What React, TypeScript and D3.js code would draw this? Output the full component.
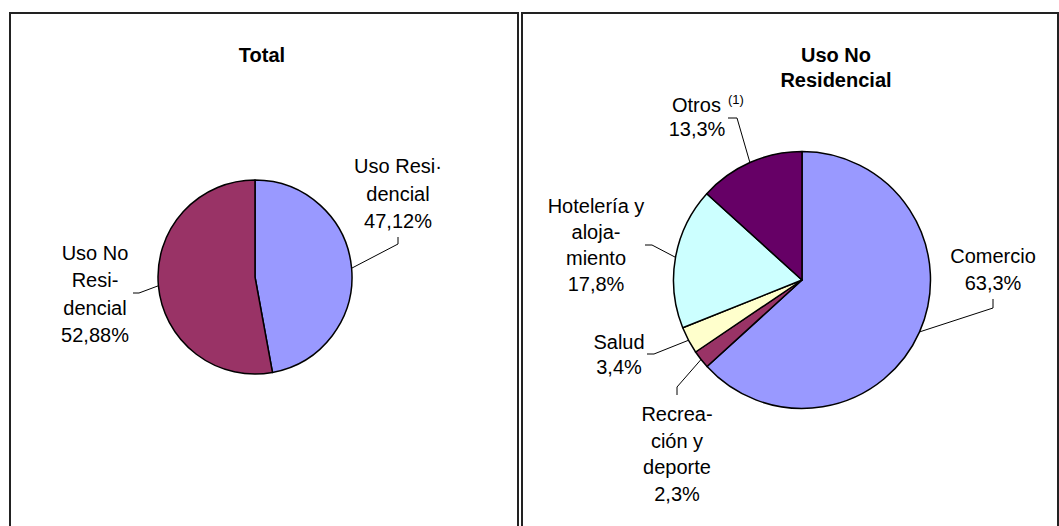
import React from "react";
import * as d3 from "d3";

// datos
const totalNames = ["Uso Residencial", "Uso No Residencial"];
const totalValues = [47.12, 52.88];
const totalColors = ["#9999FF", "#993366"];
const totalText = [["Uso Resi\u00B7", "dencial"], ["Uso No", "Resi-", "dencial"]];

const noResNames = ["Comercio", "Recreación y deporte", "Salud", "Hotelería y alojamiento", "Otros"];
const noResValues = [63.3, 2.3, 3.4, 17.8, 13.3];
const noResColors = ["#9999FF", "#993366", "#FFFFCC", "#CCFFFF", "#660066"];
const noResText = [["Comercio"], ["Recrea-", "ción y", "deporte"], ["Salud"], ["Hotelería y", "aloja-", "miento"], ["Otros"]];

const FONT = "'Liberation Sans', Arial, sans-serif";

// posiciones de las etiquetas (x centro, y primera linea, alto de linea, codo, remate)
const totalLayout = [
  { x: 398, y: 173, lh: 27.5, elbow: [398, 244], end: [398, 237] },
  { x: 95, y: 259.5, lh: 27.5, elbow: [139, 293], end: [133, 293] },
];
const noResLayout = [
  { x: 993, y: 263, lh: 27, elbow: [993, 308], end: [993, 299] },
  { x: 677, y: 421, lh: 26.5, elbow: [677, 387], end: [677, 395] },
  { x: 619, y: 349, lh: 25, elbow: [654, 354], end: [647, 354] },
  { x: 596, y: 213, lh: 26, elbow: [652, 245], end: [645, 245] },
  { x: 697, y: 111.5, lh: 24.5, elbow: [737, 118], end: [728, 118] },
];

const fmt = (v: number, dec: number) => d3.format(`.${dec}f`)(v).replace(".", ",") + "%";

type Layout = { x: number; y: number; lh: number; elbow: number[]; end: number[] };

const Pie = ({ cx, cy, r, values, colors, text, layout, dec }: {
  cx: number; cy: number; r: number; values: number[]; colors: string[];
  text: string[][]; layout: Layout[]; dec: number;
}) => {
  const arcs = d3.pie<number>().sort(null).value((d) => d)(values);
  const arc = d3.arc<d3.PieArcDatum<number>>().innerRadius(0).outerRadius(r);
  const edge = d3.arc<d3.PieArcDatum<number>>().innerRadius(r).outerRadius(r);
  return (
    <g>
      <g transform={`translate(${cx},${cy})`}>
        {arcs.map((a, i) => (
          <path key={i} d={arc(a) || ""} fill={colors[i]} stroke="#000" strokeWidth={1.5} strokeLinejoin="round" />
        ))}
      </g>
      {arcs.map((a, i) => {
        const [px, py] = edge.centroid(a);
        const l = layout[i];
        const lines = [...text[i], fmt(values[i], dec)];
        const isOtros = text[i][0] === "Otros";
        return (
          <g key={i}>
            <polyline
              points={`${cx + px},${cy + py} ${l.elbow[0]},${l.elbow[1]} ${l.end[0]},${l.end[1]}`}
              fill="none" stroke="#000" strokeWidth={1}
            />
            {lines.map((t, j) =>
              isOtros && j === 0 ? (
                <text key={j} x={672} y={l.y} fontSize={20} fontFamily={FONT} fill="#000">
                  {t}
                  <tspan x={728} y={l.y - 8} fontSize={13}>(1)</tspan>
                </text>
              ) : (
                <text key={j} x={l.x} y={l.y + j * l.lh} textAnchor="middle" fontSize={20} fontFamily={FONT} fill="#000">{t}</text>
              )
            )}
          </g>
        );
      })}
    </g>
  );
};

export default function App() {
  return (
    <svg width={1059} height={526} style={{ position: "absolute", left: 0, top: 0, background: "#fff" }}>
      <rect x={10} y={13} width={508} height={530} fill="#fff" stroke="#222" strokeWidth={2} />
      <rect x={522} y={13} width={536} height={530} fill="#fff" stroke="#222" strokeWidth={2} />

      <text x={262} y={62} textAnchor="middle" fontSize={20} fontWeight="bold" fontFamily={FONT}>Total</text>
      <text x={836} y={62} textAnchor="middle" fontSize={20} fontWeight="bold" fontFamily={FONT}>Uso No</text>
      <text x={836} y={87} textAnchor="middle" fontSize={20} fontWeight="bold" fontFamily={FONT}>Residencial</text>

      <Pie cx={255} cy={277} r={97} values={totalValues} colors={totalColors} text={totalText} layout={totalLayout} dec={2} />
      <Pie cx={802} cy={280} r={128.5} values={noResValues} colors={noResColors} text={noResText} layout={noResLayout} dec={1} />
    </svg>
  );
}
